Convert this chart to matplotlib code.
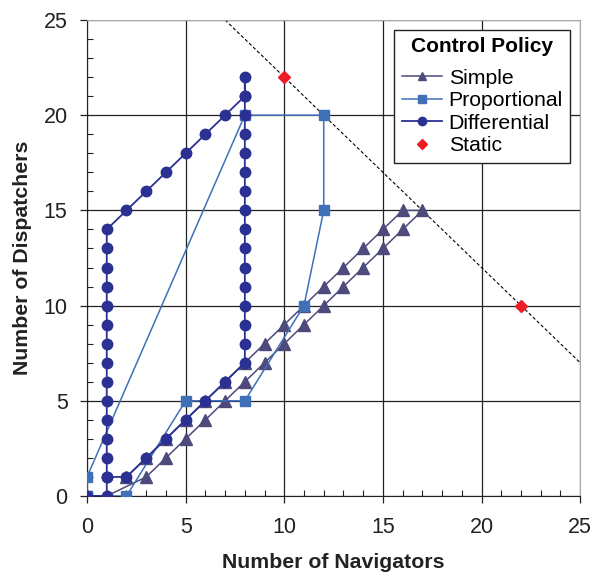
import matplotlib
matplotlib.use("Agg")
import matplotlib.pyplot as plt
from matplotlib.ticker import MultipleLocator

plt.rcParams['font.family'] = ['Liberation Sans', 'DejaVu Sans']

# Simple policy trajectory
simple_x = [0, 1, 3, 4, 5, 6, 7, 8, 9, 10, 11, 12, 13, 14, 15, 16, 17,
            16, 15, 14, 13, 12, 11, 10, 9, 8, 7, 6, 5, 4, 3, 2]
simple_y = [0, 0, 1, 2, 3, 4, 5, 6, 7, 8, 9, 10, 11, 12, 13, 14, 15,
            15, 14, 13, 12, 11, 10, 9, 8, 7, 6, 5, 4, 3, 2, 1]

# Proportional policy trajectory
prop_x = [0, 2, 5, 8, 11, 12, 12, 8, 0, 0]
prop_y = [0, 0, 5, 5, 10, 15, 20, 20, 1, 0]

# Differential policy trajectory
diff_x = [0, 1] + [1] * 14 + [2, 3, 4, 5, 6, 7, 8, 8] + [8] * 15 + [7, 6, 5, 4, 3, 2, 1]
diff_y = [0, 0] + list(range(1, 15)) + [15, 16, 17, 18, 19, 20, 21, 22] + list(range(21, 6, -1)) + [6, 5, 4, 3, 2, 1, 1]

# Static policy points
static_x = [10, 22]
static_y = [22, 10]

# Capacity line x + y = 32
cap_x = [7, 25]
cap_y = [25, 7]

c_simple = '#4d4a7c'
c_prop = '#3f70b8'
c_diff = '#2b3192'
c_static = '#ee1c25'

fig = plt.figure(figsize=(5.92, 5.73), dpi=100)
ax = fig.add_axes([0.147, 0.1344, 0.833, 0.8307])

ax.plot(cap_x, cap_y, color='black', lw=0.8, ls=(0, (3, 2)), zorder=2)

ax.plot(simple_x, simple_y, color=c_simple, lw=1.1, marker='^', ms=8,
        mec=c_simple, mfc=c_simple, label='Simple', zorder=3)
ax.plot(prop_x, prop_y, color=c_prop, lw=1.1, marker='s', ms=7,
        mec=c_prop, mfc=c_prop, label='Proportional', zorder=4)
ax.plot(diff_x, diff_y, color=c_diff, lw=1.3, marker='o', ms=7.5,
        mec=c_diff, mfc=c_diff, label='Differential', zorder=5)
ax.plot(static_x, static_y, ls='none', marker='D', ms=6.5, color=c_static,
        label='Static', zorder=6)

ax.set_xlim(0, 25)
ax.set_ylim(0, 25)
ax.xaxis.set_major_locator(MultipleLocator(5))
ax.yaxis.set_major_locator(MultipleLocator(5))
ax.xaxis.set_minor_locator(MultipleLocator(1))
ax.yaxis.set_minor_locator(MultipleLocator(1))
ax.grid(True, which='major', color='#222222', lw=0.9, zorder=0)
ax.set_axisbelow(True)
ax.tick_params(which='major', direction='out', length=5, width=0.9,
               labelsize=15.5, colors='#222222')
ax.tick_params(axis='x', which='major', pad=10)
ax.tick_params(axis='y', which='major', pad=9)
ax.tick_params(which='minor', direction='in', length=4, width=0.8, colors='#222222')

ax.spines['left'].set_color('#222222')
ax.spines['bottom'].set_color('#222222')
ax.spines['right'].set_color('#aaaaaa')
ax.spines['top'].set_color('#aaaaaa')

ax.set_xlabel('Number of Navigators', fontsize=15.3, fontweight='bold', labelpad=11, color='#222222')
ax.set_ylabel('Number of Dispatchers', fontsize=15.3, fontweight='bold', labelpad=8, color='#222222')

leg = ax.legend(title='Control Policy', loc='upper right', bbox_to_anchor=(0.98, 0.979),
                fontsize=15.3, title_fontproperties={'weight': 'bold', 'size': 15},
                frameon=True, fancybox=False, borderpad=0.35, labelspacing=0.16,
                handlelength=1.9, handletextpad=0.3, borderaxespad=0, markerscale=0.8)
leg._legend_box.sep = 9
leg.get_frame().set_edgecolor('#222222')
leg.get_frame().set_linewidth(1.0)
leg.get_frame().set_alpha(1)

fig.savefig('out.png', dpi=100)
